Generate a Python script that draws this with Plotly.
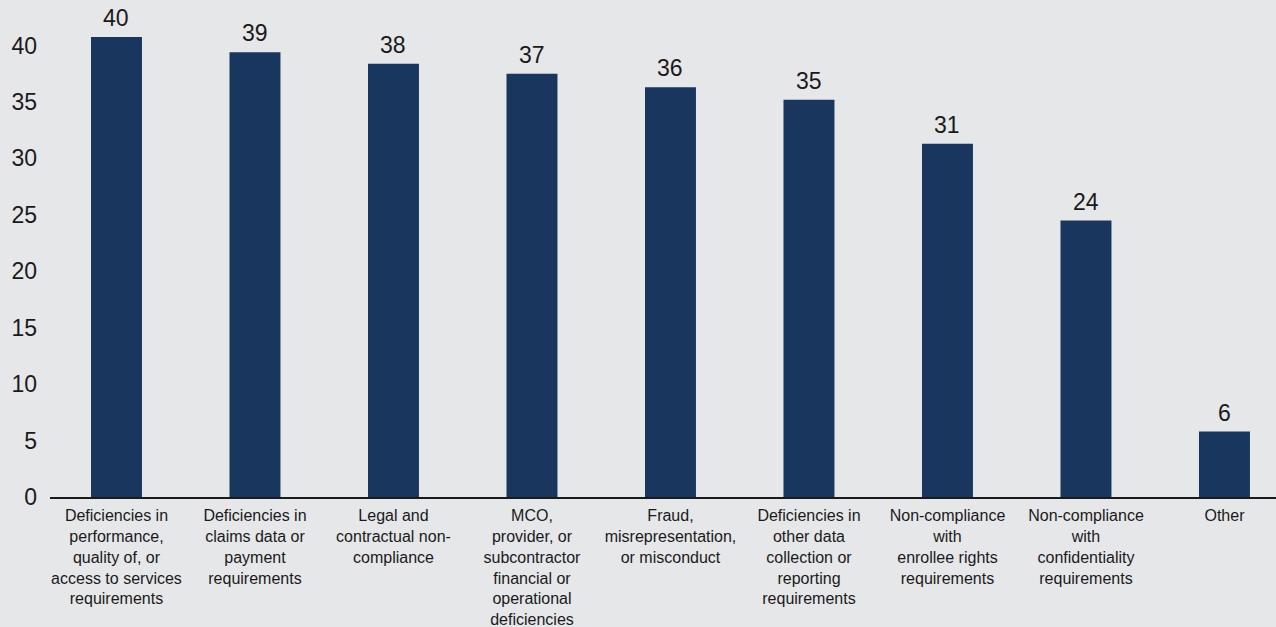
import plotly.graph_objects as go

categories = [
    "Deficiencies in<br>performance,<br>quality of, or<br>access to services<br>requirements",
    "Deficiencies in<br>claims data or<br>payment<br>requirements",
    "Legal and<br>contractual non-<br>compliance",
    "MCO,<br>provider, or<br>subcontractor<br>financial or<br>operational<br>deficiencies",
    "Fraud,<br>misrepresentation,<br>or misconduct",
    "Deficiencies in<br>other data<br>collection or<br>reporting<br>requirements",
    "Non-compliance<br>with<br>enrollee rights<br>requirements",
    "Non-compliance<br>with<br>confidentiality<br>requirements",
    "Other",
]
values = [40.75, 39.4, 38.4, 37.5, 36.3, 35.2, 31.3, 24.5, 5.8]
value_labels = ["40", "39", "38", "37", "36", "35", "31", "24", "6"]
y_ticks = [0, 5, 10, 15, 20, 25, 30, 35, 40]

BG = "#e6e7e9"
BAR = "#18365e"
TXT = "#1a1a1a"
FONT = "Liberation Sans, Arial, sans-serif"

xs = list(range(len(categories)))

fig = go.Figure(
    go.Bar(
        x=xs,
        y=values,
        marker=dict(color=BAR, line=dict(width=0)),
        cliponaxis=False,
        hoverinfo="skip",
    )
)

for xi, v, lab in zip(xs, values, value_labels):
    fig.add_annotation(
        x=xi, y=v, text=lab, showarrow=False,
        xanchor="center", yanchor="bottom", yshift=4,
        font=dict(size=23, color=TXT, family=FONT),
    )

fig.update_layout(
    width=1276,
    height=627,
    paper_bgcolor=BG,
    plot_bgcolor=BG,
    margin=dict(l=50, r=0, t=23, b=130),
    bargap=0.632,
    showlegend=False,
    font=dict(family=FONT, color=TXT),
)

fig.update_xaxes(
    tickmode="array",
    tickvals=xs,
    ticktext=categories,
    range=[-0.48, 8.372],
    showgrid=False,
    zeroline=False,
    showline=True,
    linecolor="#1a1a1a",
    linewidth=2,
    ticks="",
    tickangle=0,
    ticklabelstandoff=3,
    tickfont=dict(size=16, color=TXT, family=FONT),
)

fig.update_yaxes(
    range=[0, 42],
    tickmode="array",
    tickvals=y_ticks,
    showgrid=False,
    zeroline=False,
    showline=False,
    ticks="",
    ticklabelstandoff=12,
    tickfont=dict(size=23, color=TXT, family=FONT),
)

fig.write_html(
    "out.html",
    config={"displayModeBar": False},
    post_script="document.body.style.margin='0';document.body.style.background='" + BG + "';",
)
